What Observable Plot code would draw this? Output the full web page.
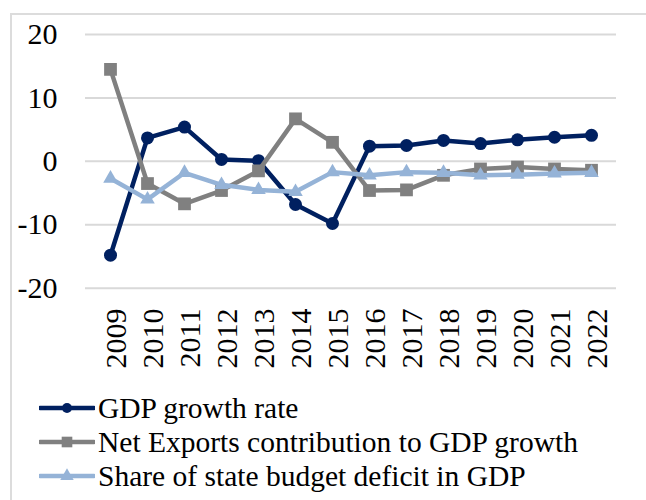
<!DOCTYPE html>
<html>
<head>
<meta charset="utf-8">
<script src="https://cdn.jsdelivr.net/npm/d3@7"></script>
<script src="https://cdn.jsdelivr.net/npm/@observablehq/plot@0.6"></script>
<style>
  html, body { margin: 0; padding: 0; background: #fff; width: 646px; height: 500px; overflow: hidden; }
  #frame { position: absolute; left: 10px; top: 13px; width: 700px; height: 600px; border: 2px solid #dcdcdc; box-sizing: border-box; }
  #main { position: absolute; left: 0; top: 0; }
  #xlabels { position: absolute; left: 0; top: 300px; }
  #legend { position: absolute; left: 39px; top: 391px; font-family: "Times New Roman", Times, "Liberation Serif", Tinos, "Noto Serif", "DejaVu Serif", serif; font-size: 29.5px; color: #000; }
  .row { display: flex; align-items: center; height: 34px; white-space: nowrap; }
  .row svg { margin-right: 3px; }
</style>
</head>
<body>
<div id="frame"></div>
<div id="main"></div>
<div id="xlabels"></div>
<div id="legend"></div>
<script>
const years = ["2009","2010","2011","2012","2013","2014","2015","2016","2017","2018","2019","2020","2021","2022"];
const gdpGrowth = [-14.8, 3.7, 5.4, 0.3, 0.1, -6.8, -9.8, 2.4, 2.5, 3.3, 2.8, 3.4, 3.8, 4.1];
const netExports = [14.5, -3.5, -6.7, -4.6, -1.5, 6.7, 3.0, -4.6, -4.5, -2.2, -1.2, -0.9, -1.2, -1.4];
const budgetDeficit = [-2.7, -6.0, -1.8, -3.7, -4.5, -4.8, -1.7, -2.2, -1.7, -1.8, -2.2, -2.1, -1.9, -1.8];
const yTicks = [-20, -10, 0, 10, 20];

const seriesNames = ["GDP growth rate", "Net Exports contribution to GDP growth", "Share of state budget deficit in GDP"];
const seriesValues = [gdpGrowth, netExports, budgetDeficit];
const seriesColors = ["#002060", "#808080", "#95b3d7"];
const seriesSymbols = ["circle", "square", "triangle"];
const seriesR = [6.5, 7.2, 5.4];

const font = '"Times New Roman", Times, "Liberation Serif", Tinos, "Noto Serif", "DejaVu Serif", serif';

const marks = [
  Plot.gridY(yTicks, {stroke: "#d9d9d9", strokeOpacity: 1, strokeWidth: 2}),
  Plot.axisY(yTicks, {tickSize: 0, tickPadding: 28, tickFormat: d => String(d), fontSize: 30, fontFamily: font, fill: "#000", label: null})
];
seriesValues.forEach((vals, i) => {
  const data = years.map((y, j) => ({year: y, value: vals[j]}));
  marks.push(Plot.line(data, {x: "year", y: "value", stroke: seriesColors[i], strokeWidth: 4.5, strokeLinejoin: "round"}));
  marks.push(Plot.dot(data, {x: "year", y: "value", symbol: () => seriesSymbols[i], r: seriesR[i], fill: seriesColors[i], stroke: "none"}));
});

const chart = Plot.plot({
  width: 646,
  height: 300,
  marginTop: 34,
  marginBottom: 12.3,
  marginLeft: 85,
  marginRight: 30,
  x: {type: "point", domain: years, padding: 0.5, axis: null},
  y: {domain: [-20, 20]},
  symbol: {type: "identity"},
  style: {background: "transparent", overflow: "visible", fontFamily: font},
  marks
});
document.getElementById("main").appendChild(chart);

const xAxisPlot = Plot.plot({
  width: 646,
  height: 100,
  marginTop: 0,
  marginBottom: 95,
  marginLeft: 0,
  marginRight: 0,
  x: {type: "point", domain: years, range: [92.7, 621]},
  style: {background: "transparent", overflow: "visible", fontFamily: font},
  marks: [
    Plot.axisX({anchor: "bottom", tickSize: 0, tickPadding: 3, tickRotate: -90, fontSize: 30, fontFamily: font, fill: "#000", label: null})
  ]
});
document.getElementById("xlabels").appendChild(xAxisPlot);

const legend = document.getElementById("legend");
const symPath = {
  circle: d3.symbol(d3.symbolCircle, Math.PI * 25)(),
  square: d3.symbol(d3.symbolSquare, Math.PI * 36)(),
  triangle: d3.symbol(d3.symbolTriangle, Math.PI * 25)()
};
seriesNames.forEach((name, i) => {
  const row = document.createElement("div");
  row.className = "row";
  row.innerHTML = `<svg width="56" height="20" viewBox="0 0 56 20"><line x1="1" y1="10" x2="55" y2="10" stroke="${seriesColors[i]}" stroke-width="4.5" stroke-linecap="round"/><path d="${symPath[seriesSymbols[i]]}" transform="translate(28,10)" fill="${seriesColors[i]}"/></svg><span>${name}</span>`;
  legend.appendChild(row);
});
</script>
</body>
</html>
